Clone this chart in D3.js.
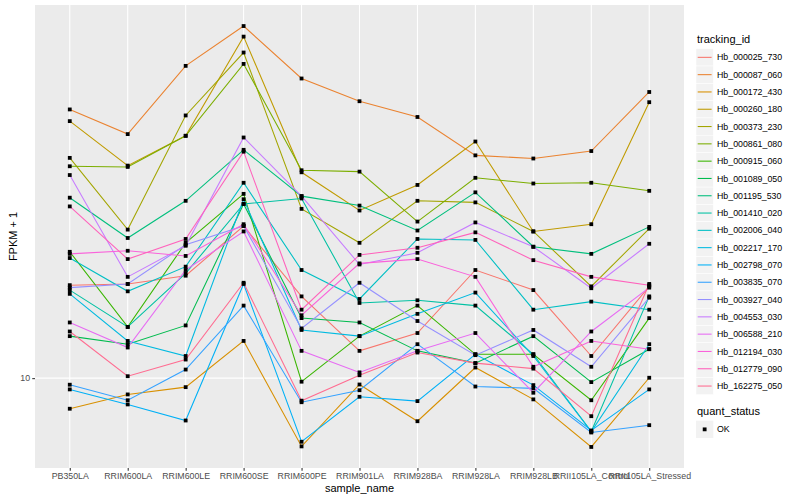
<!DOCTYPE html>
<html>
<head>
<meta charset="utf-8">
<script src="https://cdn.jsdelivr.net/npm/d3@7"></script>
<style>
  body { margin: 0; background: #fff; }
  text { font-family: "Liberation Sans", Arial, sans-serif; }
</style>
</head>
<body>
<svg id="chart" width="800" height="500"></svg>
<script>
// sample names on the x axis
const samples = ["PB350LA", "RRIM600LA", "RRIM600LE", "RRIM600SE", "RRIM600PE", "RRIM901LA",
  "RRIM928BA", "RRIM928LA", "RRIM928LB", "RRII105LA_Control", "RRII105LA_Stressed"];

const trackingIds = ["Hb_000025_730", "Hb_000087_060", "Hb_000172_430", "Hb_000260_180", "Hb_000373_230",
  "Hb_000861_080", "Hb_000915_060", "Hb_001089_050", "Hb_001195_530", "Hb_001410_020",
  "Hb_002006_040", "Hb_002217_170", "Hb_002798_070", "Hb_003835_070", "Hb_003927_040",
  "Hb_004553_030", "Hb_006588_210", "Hb_012194_030", "Hb_012779_090", "Hb_162275_050"];

// FPKM + 1, one array per gene, in sample order
const hb_000025_730 = [16.1, 16.2, 16.9, 21.8, 15.2, 11.5, 12.6, 17.4, 15.7, 11.2, 16.0];
const hb_000087_060 = [39.6, 34.9, 49.5, 60.7, 46.4, 41.3, 38.1, 31.3, 30.8, 32.0, 43.3];
const hb_000172_430 = [8.55, 9.20, 9.55, 12.1, 7.05, 9.68, 8.02, 10.56, 8.97, 7.03, 10.02];
const hb_000260_180 = [37.3, 29.7, 34.6, 57.5, 28.7, 23.6, 26.9, 33.6, 21.2, 22.0, 41.1];
const hb_000373_230 = [30.9, 21.4, 38.4, 53.0, 23.8, 20.0, 24.8, 24.6, 21.2, 16.0, 21.5];
const hb_000861_080 = [29.6, 29.5, 34.6, 50.0, 29.0, 28.8, 22.3, 27.9, 27.1, 27.2, 26.1];
const hb_000915_060 = [19.1, 13.0, 20.0, 25.7, 9.82, 12.4, 14.5, 11.3, 11.3, 8.93, 13.6];
const hb_001089_050 = [12.4, 11.9, 13.1, 24.4, 13.6, 13.3, 11.5, 10.8, 12.4, 9.80, 11.6];
const hb_001195_530 = [25.2, 20.5, 24.8, 32.2, 25.4, 24.2, 21.3, 25.9, 19.6, 18.9, 21.7];
const hb_001410_020 = [15.7, 13.0, 17.1, 24.4, 25.1, 14.7, 14.9, 14.5, 11.3, 7.61, 15.2];
const hb_002006_040 = [18.5, 15.6, 17.7, 27.2, 17.4, 15.0, 20.4, 20.3, 14.2, 14.8, 14.2];
const hb_002217_170 = [15.4, 12.1, 11.2, 25.0, 12.8, 12.4, 13.9, 15.5, 11.2, 7.61, 11.9];
const hb_002798_070 = [9.44, 8.74, 8.05, 16.2, 7.22, 9.09, 8.89, 11.3, 9.65, 7.65, 9.44];
const hb_003835_070 = [9.67, 8.93, 10.45, 14.5, 8.84, 9.40, 11.9, 9.58, 9.49, 7.57, 7.86];
const hb_003927_040 = [15.9, 16.2, 19.8, 21.8, 12.9, 16.3, 13.4, 11.25, 12.8, 10.6, 15.1];
const hb_004553_030 = [28.3, 16.8, 19.7, 34.3, 25.4, 17.9, 19.0, 22.2, 19.6, 15.85, 19.9];
const hb_006588_210 = [13.3, 11.7, 17.4, 21.2, 11.5, 10.3, 11.5, 12.6, 9.28, 12.7, 15.9];
const hb_012194_030 = [18.9, 19.2, 18.7, 22.0, 13.8, 18.0, 18.4, 16.8, 10.6, 12.1, 11.6];
const hb_012779_090 = [24.1, 18.4, 20.4, 31.9, 14.2, 18.8, 19.5, 21.1, 18.3, 16.8, 16.1];
const hb_162275_050 = [12.7, 10.1, 11.0, 16.3, 8.91, 10.15, 11.4, 10.8, 10.5, 8.23, 16.2];

const yTicks = [10];
const quantStatus = ["OK"];

const colors = ["#F8766D", "#EA8331", "#D89000", "#C09B00", "#A3A500", "#7CAE00", "#39B600", "#00BB4E",
  "#00BF7D", "#00C1A3", "#00BFC4", "#00BAE0", "#00B0F6", "#35A2FF", "#9590FF", "#C77CFF",
  "#E76BF3", "#FA62DB", "#FF62BC", "#FF6C91"];

const values = [hb_000025_730, hb_000087_060, hb_000172_430, hb_000260_180, hb_000373_230,
  hb_000861_080, hb_000915_060, hb_001089_050, hb_001195_530, hb_001410_020,
  hb_002006_040, hb_002217_170, hb_002798_070, hb_003835_070, hb_003927_040,
  hb_004553_030, hb_006588_210, hb_012194_030, hb_012779_090, hb_162275_050];

const series = trackingIds.map((id, i) => ({
  id: id,
  color: colors[i],
  points: samples.map((s, j) => ({sample: s, value: values[i][j]}))
}));

const svg = d3.select('#chart');
const panel = {left: 35, right: 684, top: 5, bottom: 468};

const x = d3.scalePoint()
  .domain(samples)
  .range([panel.left, panel.right])
  .padding(0.6);

// log scale, 5% expansion on the log range like ggplot
const all = values.flat();
const lmin = Math.log10(d3.min(all)), lmax = Math.log10(d3.max(all));
const pad = (lmax - lmin) * 0.05;
const y = d3.scaleLog()
  .domain([Math.pow(10, lmin - pad), Math.pow(10, lmax + pad)])
  .range([panel.bottom, panel.top]);

svg.append('rect')
  .attr('x', panel.left)
  .attr('y', panel.top)
  .attr('width', panel.right - panel.left)
  .attr('height', panel.bottom - panel.top)
  .attr('fill', '#EBEBEB');

svg.selectAll('.vgrid')
  .data(samples)
  .enter()
  .append('line')
  .attr('x1', d => x(d)).attr('x2', d => x(d))
  .attr('y1', panel.top).attr('y2', panel.bottom)
  .attr('stroke', '#fff')
  .attr('stroke-width', 1.07);

svg.selectAll('.hgrid')
  .data(yTicks)
  .enter()
  .append('line')
  .attr('x1', panel.left).attr('x2', panel.right)
  .attr('y1', d => y(d)).attr('y2', d => y(d))
  .attr('stroke', '#fff')
  .attr('stroke-width', 1.07);

const line = d3.line()
  .x(d => x(d.sample))
  .y(d => y(d.value));

svg.selectAll('.series')
  .data(series)
  .enter()
  .append('path')
  .attr('d', d => line(d.points))
  .attr('fill', 'none')
  .attr('stroke', d => d.color)
  .attr('stroke-width', 1.07);

svg.selectAll('.pt')
  .data(series.flatMap(s => s.points))
  .enter()
  .append('rect')
  .attr('x', d => x(d.sample) - 1.9)
  .attr('y', d => y(d.value) - 1.9)
  .attr('width', 3.8)
  .attr('height', 3.8)
  .attr('fill', '#000');

// axes
const xAxis = svg.append('g')
  .attr('transform', `translate(0,${panel.bottom})`)
  .call(d3.axisBottom(x).tickSizeInner(2.75).tickSizeOuter(0).tickPadding(2.5));
xAxis.select('.domain').remove();
xAxis.selectAll('line').attr('stroke', '#333333').attr('stroke-width', 1.07);
xAxis.selectAll('text').attr('fill', '#4D4D4D').attr('font-size', '8.8px')
  .style('font-family', '"Liberation Sans", Arial, sans-serif');

const yAxis = svg.append('g')
  .attr('transform', `translate(${panel.left},0)`)
  .call(d3.axisLeft(y).tickValues(yTicks).tickFormat(d3.format('d')).tickSizeInner(2.75).tickSizeOuter(0).tickPadding(2.2));
yAxis.select('.domain').remove();
yAxis.selectAll('line').attr('stroke', '#333333').attr('stroke-width', 1.07);
yAxis.selectAll('text').attr('fill', '#4D4D4D').attr('font-size', '8.8px')
  .style('font-family', '"Liberation Sans", Arial, sans-serif');

svg.append('text')
  .attr('x', (panel.left + panel.right) / 2)
  .attr('y', 492)
  .attr('text-anchor', 'middle')
  .attr('font-size', '11px')
  .text('sample_name');

svg.append('text')
  .attr('transform', `translate(16.5,${(panel.top + panel.bottom) / 2}) rotate(-90)`)
  .attr('text-anchor', 'middle')
  .attr('font-size', '11px')
  .text('FPKM + 1');

// legend: tracking_id
const legX = 696, keyW = 17.3, keyH = 17.3, legTop = 48.7;
svg.append('text')
  .attr('x', 697).attr('y', 43)
  .attr('font-size', '11px')
  .text('tracking_id');

const keys = svg.selectAll('.key')
  .data(series)
  .enter()
  .append('g')
  .attr('transform', (d, i) => `translate(${legX},${legTop + i * keyH})`);

keys.append('rect')
  .attr('width', keyW).attr('height', keyH)
  .attr('fill', '#F2F2F2')
  .attr('stroke', '#fff')
  .attr('stroke-width', 0.5);

keys.append('line')
  .attr('x1', 1.7).attr('x2', keyW - 1.7)
  .attr('y1', keyH / 2).attr('y2', keyH / 2)
  .attr('stroke', d => d.color)
  .attr('stroke-width', 1.07);

keys.append('text')
  .attr('x', keyW + 3.7)
  .attr('y', keyH / 2 + 3.1)
  .attr('font-size', '8.8px')
  .text(d => d.id);

// legend: quant_status
svg.append('text')
  .attr('x', 697).attr('y', 415)
  .attr('font-size', '11px')
  .text('quant_status');

const qk = svg.selectAll('.qkey')
  .data(quantStatus)
  .enter()
  .append('g')
  .attr('transform', (d, i) => `translate(${legX},${420.7 + i * keyH})`);

qk.append('rect')
  .attr('width', keyW).attr('height', keyH)
  .attr('fill', '#F2F2F2');

qk.append('rect')
  .attr('x', keyW / 2 - 1.9).attr('y', keyH / 2 - 1.9)
  .attr('width', 3.8).attr('height', 3.8)
  .attr('fill', '#000');

qk.append('text')
  .attr('x', keyW + 3.7)
  .attr('y', keyH / 2 + 3.1)
  .attr('font-size', '8.8px')
  .text(d => d);
</script>
</body>
</html>
